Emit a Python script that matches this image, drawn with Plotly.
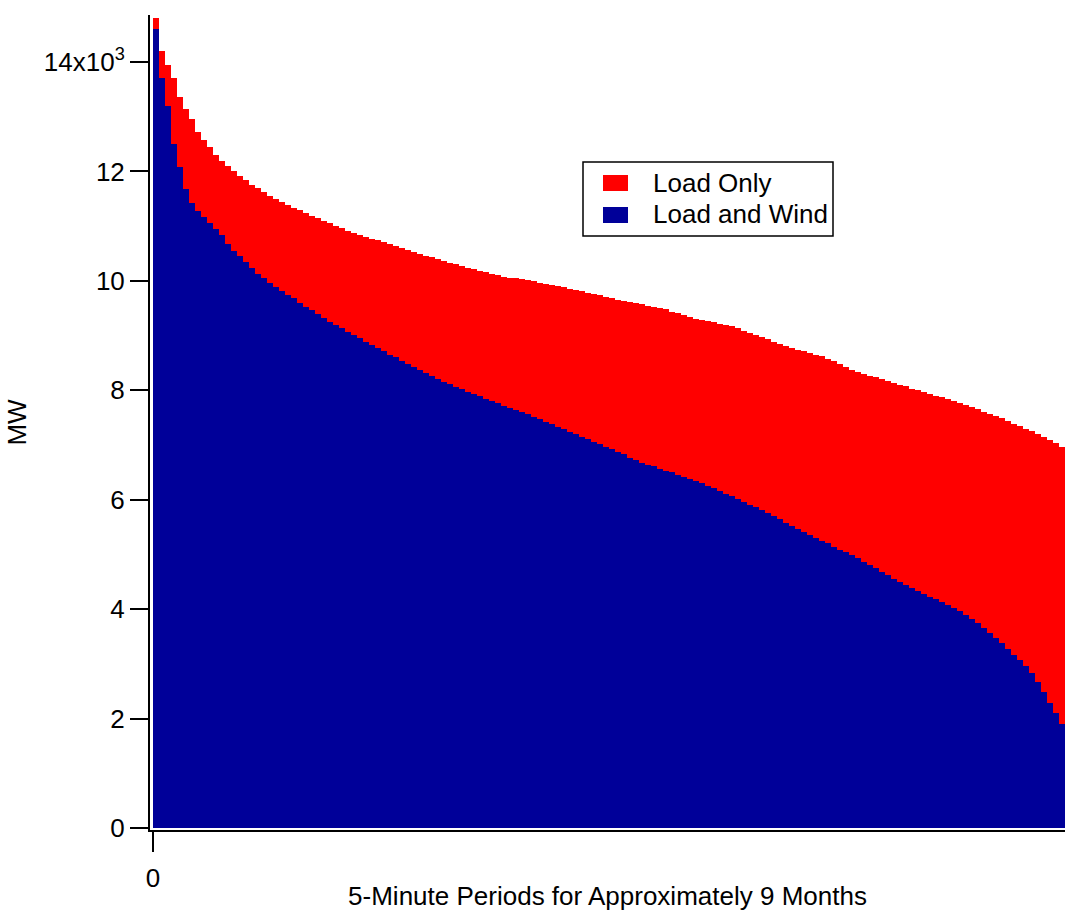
import plotly.graph_objects as go

# Load duration curves, values in thousands of MW, one value per bar (sorted descending)
load_only = [
    14.8, 14.2, 13.95, 13.7, 13.36, 13.15, 12.95, 12.72, 12.58, 12.45,
    12.3, 12.19, 12.1, 12.0, 11.92, 11.84, 11.76, 11.7, 11.63, 11.56,
    11.5, 11.44, 11.39, 11.34, 11.29, 11.24, 11.19, 11.15, 11.1, 11.05,
    11.0, 10.96, 10.92, 10.88, 10.84, 10.81, 10.77, 10.74, 10.71, 10.67,
    10.63, 10.6, 10.56, 10.52, 10.49, 10.46, 10.43, 10.4, 10.37, 10.33,
    10.3, 10.27, 10.24, 10.21, 10.18, 10.16, 10.13, 10.11, 10.08, 10.06,
    10.05, 10.03, 10.01, 9.99, 9.97, 9.94, 9.92, 9.9, 9.88, 9.86,
    9.83, 9.81, 9.78, 9.76, 9.74, 9.71, 9.68, 9.65, 9.63, 9.61,
    9.59, 9.57, 9.55, 9.53, 9.51, 9.48, 9.44, 9.41, 9.38, 9.34,
    9.31, 9.29, 9.27, 9.25, 9.22, 9.2, 9.17, 9.13, 9.09, 9.05,
    9.01, 8.97, 8.93, 8.89, 8.85, 8.81, 8.77, 8.74, 8.71, 8.68,
    8.65, 8.62, 8.58, 8.53, 8.48, 8.43, 8.38, 8.33, 8.3, 8.27,
    8.24, 8.2, 8.17, 8.14, 8.1, 8.07, 8.03, 8.0, 7.96, 7.93,
    7.9, 7.87, 7.84, 7.8, 7.77, 7.73, 7.69, 7.65, 7.61, 7.57,
    7.53, 7.49, 7.44, 7.39, 7.34, 7.29, 7.25, 7.2, 7.15, 7.1,
    7.04, 6.97,
]

load_and_wind = [
    14.6, 13.7, 13.2, 12.5, 12.08, 11.68, 11.42, 11.27, 11.17, 11.06,
    10.95, 10.84, 10.68, 10.55, 10.45, 10.34, 10.23, 10.13, 10.05, 9.96,
    9.89, 9.82, 9.75, 9.68, 9.6, 9.53, 9.46, 9.39, 9.32, 9.25,
    9.19, 9.13, 9.07, 9.01, 8.95, 8.89, 8.83, 8.77, 8.71, 8.65,
    8.6, 8.54, 8.48, 8.42, 8.37, 8.31, 8.26, 8.21, 8.16, 8.11,
    8.06, 8.02, 7.97, 7.93, 7.89, 7.85, 7.81, 7.77, 7.72, 7.68,
    7.64, 7.6, 7.56, 7.52, 7.47, 7.42, 7.38, 7.33, 7.29, 7.24,
    7.2, 7.15, 7.11, 7.06, 7.02, 6.97, 6.93, 6.88, 6.83, 6.77,
    6.72, 6.68, 6.64, 6.61, 6.57, 6.53, 6.5, 6.46, 6.42, 6.38,
    6.34, 6.3, 6.26, 6.21, 6.16, 6.11, 6.06, 6.01, 5.96, 5.91,
    5.86, 5.81, 5.76, 5.71, 5.65, 5.58, 5.52, 5.46, 5.41, 5.36,
    5.3, 5.25, 5.2, 5.14, 5.09, 5.04, 4.99, 4.93, 4.87, 4.81,
    4.75, 4.68, 4.62, 4.56, 4.5, 4.44, 4.38, 4.33, 4.28, 4.23,
    4.18, 4.13, 4.08, 4.02, 3.96, 3.89, 3.82, 3.75, 3.66, 3.57,
    3.48, 3.38, 3.27, 3.17, 3.07, 2.96, 2.83, 2.66, 2.48, 2.29,
    2.1, 1.9,
]

series_names = ["Load Only", "Load and Wind"]
series_colors = ["#FF0000", "#000099"]

periods_per_bar = 512  # 5-minute periods represented by each bar

y_tickvals = [0, 2, 4, 6, 8, 10, 12, 14]
y_ticktext = ["0", "2", "4", "6", "8", "10", "12", "14x10<sup>3</sup>"]

x_title = "5-Minute Periods for Approximately 9 Months"
y_title = "MW"

FONT = "Liberation Sans, Arial, sans-serif"
FS = 26

# plot-area geometry in pixels (for placing the boxed legend)
L, R, T, B = 150, 1065, 15, 830
PW, PH = R - L, B - T


def px(xp):
    return (xp - L) / PW


def py(yp):
    return (B - yp) / PH


fig = go.Figure()
for name, color, vals in zip(series_names, series_colors, [load_only, load_and_wind]):
    xs = [(i + 0.5) * periods_per_bar for i in range(len(vals))]
    fig.add_trace(go.Bar(
        x=xs, y=vals, name=name,
        width=periods_per_bar,
        marker=dict(color=color, line=dict(width=0)),
        showlegend=False,
    ))

# Boxed legend (drawn as paper shapes + text)
shapes = [dict(type="rect", xref="paper", yref="paper",
               x0=px(583), x1=px(833), y0=py(236), y1=py(162),
               line=dict(color="black", width=1.5), fillcolor="white", layer="above")]
annotations = []
legend_rows = [(175, 191, 183), (207, 223, 214)]
for (y0, y1, yc), name, color in zip(legend_rows, series_names, series_colors):
    shapes.append(dict(type="rect", xref="paper", yref="paper",
                       x0=px(603), x1=px(628), y0=py(y1), y1=py(y0),
                       line=dict(width=0), fillcolor=color, layer="above"))
    annotations.append(dict(xref="paper", yref="paper", x=px(651), y=py(yc),
                            xanchor="left", yanchor="middle", text=name,
                            showarrow=False, font=dict(size=FS, family=FONT, color="black")))

n_bars = len(load_only)
fig.update_layout(
    width=1065, height=911,
    margin=dict(l=L, r=0, t=T, b=911 - B),
    paper_bgcolor="white", plot_bgcolor="white",
    barmode="overlay", bargap=0,
    font=dict(family=FONT, size=FS, color="black"),
    showlegend=False,
    shapes=shapes,
    annotations=annotations,
    xaxis=dict(
        range=[-256, n_bars * periods_per_bar],
        tickvals=[0], ticktext=["0"],
        ticks="outside", ticklen=20, tickwidth=2, tickcolor="black",
        showline=True, linecolor="black", linewidth=2,
        showgrid=False, zeroline=False,
        ticklabelstandoff=4,
        title=dict(text=x_title, font=dict(size=FS), standoff=0),
        tickfont=dict(size=FS),
    ),
    yaxis=dict(
        range=[-0.037, 14.86],
        tickvals=y_tickvals, ticktext=y_ticktext,
        ticks="outside", ticklen=18, tickwidth=2, tickcolor="black",
        showline=True, linecolor="black", linewidth=2,
        showgrid=False, zeroline=False,
        title=dict(text=y_title, font=dict(size=FS), standoff=10),
        tickfont=dict(size=FS),
    ),
)

fig.write_html("out.html")
